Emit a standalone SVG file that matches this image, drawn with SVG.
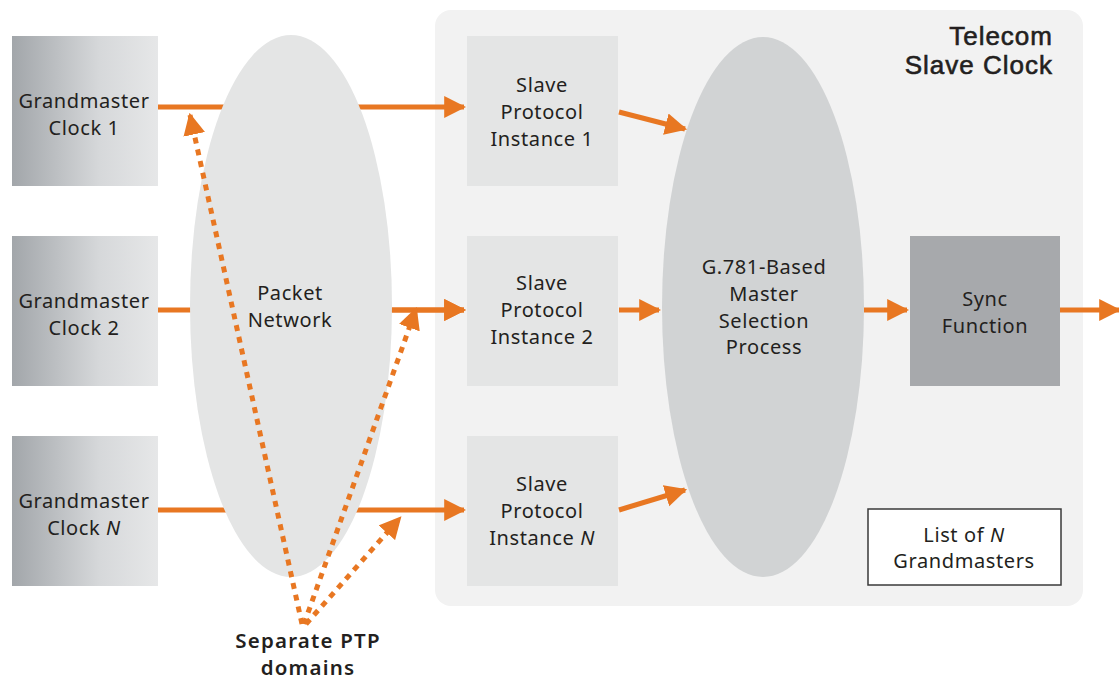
<svg xmlns="http://www.w3.org/2000/svg" width="1119" height="679" viewBox="0 0 1119 679">
  <style>
    .t { font-family: "Noto Sans", "DejaVu Sans", sans-serif; font-size: 20px; letter-spacing: 0.6px; fill: #231f20; text-anchor: middle; }
    .title { font-family: "Liberation Sans", Arial, sans-serif; font-size: 26px; letter-spacing: 1px; fill: #231f20; stroke: #231f20; stroke-width: 0.6; text-anchor: end; }
    .lbl { font-family: "Noto Sans", "DejaVu Sans", sans-serif; font-size: 20.5px; letter-spacing: 1.2px; font-weight: 600; fill: #231f20; text-anchor: middle; }
    .link { stroke: #e87722; stroke-width: 5; fill: none; }
    .dot { stroke: #e87722; stroke-width: 5; fill: none; stroke-dasharray: 6 6; }
    .gm { fill: url(#gmGrad); }
    .slave { fill: #e4e5e5; }
  </style>
  <defs>
    <linearGradient id="gmGrad" x1="0" y1="0" x2="1" y2="0">
      <stop offset="0" stop-color="#a2a6aa"/>
      <stop offset="0.6" stop-color="#d6d8da"/>
      <stop offset="1" stop-color="#e6e7e8"/>
    </linearGradient>
    <marker id="ah" viewBox="0 0 10 10" refX="9" refY="5" markerWidth="4.4" markerHeight="4.6" markerUnits="strokeWidth" orient="auto">
      <path d="M0,0 L10,5 L0,10 Z" fill="#e87722"/>
    </marker>
  </defs>

  <!-- telecom slave clock container -->
  <g id="container">
    <rect x="435" y="10" width="648" height="596" rx="16" fill="#f2f2f2"/>
    <text class="title" x="1053" y="45">Telecom</text>
    <text class="title" x="1053" y="74">Slave Clock</text>
  </g>

  <!-- links that run behind the packet network cloud -->
  <g id="connectors-back">
    <line class="link" x1="158" y1="107" x2="464" y2="107" marker-end="url(#ah)"/>
    <line class="link" x1="158" y1="310" x2="464" y2="310" marker-end="url(#ah)"/>
    <line class="link" x1="158" y1="510" x2="464" y2="510" marker-end="url(#ah)"/>
  </g>

  <g id="gm1">
    <rect class="gm" x="12" y="36" width="146" height="150"/>
    <text class="t" x="84" y="108">Grandmaster</text>
    <text class="t" x="84" y="135">Clock 1</text>
  </g>
  <g id="gm2">
    <rect class="gm" x="12" y="236" width="146" height="150"/>
    <text class="t" x="84" y="308">Grandmaster</text>
    <text class="t" x="84" y="335">Clock 2</text>
  </g>
  <g id="gmN">
    <rect class="gm" x="12" y="436" width="146" height="150"/>
    <text class="t" x="84" y="508">Grandmaster</text>
    <text class="t" x="84" y="535">Clock <tspan font-style="italic">N</tspan></text>
  </g>

  <g id="packet-network">
    <ellipse cx="291" cy="306" rx="101" ry="271" fill="#e4e5e5"/>
    <text class="t" x="290" y="300">Packet</text>
    <text class="t" x="290" y="327">Network</text>
  </g>

  <g id="slave1">
    <rect class="slave" x="467" y="36" width="151" height="150"/>
    <text class="t" x="542" y="92">Slave</text>
    <text class="t" x="542" y="119">Protocol</text>
    <text class="t" x="542" y="146">Instance 1</text>
  </g>
  <g id="slave2">
    <rect class="slave" x="467" y="236" width="151" height="150"/>
    <text class="t" x="542" y="290">Slave</text>
    <text class="t" x="542" y="317">Protocol</text>
    <text class="t" x="542" y="344">Instance 2</text>
  </g>
  <g id="slaveN">
    <rect class="slave" x="467" y="436" width="151" height="150"/>
    <text class="t" x="542" y="491">Slave</text>
    <text class="t" x="542" y="518">Protocol</text>
    <text class="t" x="542" y="545">Instance <tspan font-style="italic">N</tspan></text>
  </g>

  <g id="selection">
    <ellipse cx="763" cy="307" rx="101" ry="270" fill="#d1d3d4"/>
    <text class="t" x="764" y="274">G.781-Based</text>
    <text class="t" x="764" y="301">Master</text>
    <text class="t" x="764" y="328">Selection</text>
    <text class="t" x="764" y="354">Process</text>
  </g>

  <g id="sync">
    <rect x="910" y="236" width="150" height="150" fill="#a7a9ac"/>
    <text class="t" x="985" y="306">Sync</text>
    <text class="t" x="985" y="333">Function</text>
  </g>

  <g id="gm-list">
    <rect x="868" y="509" width="193" height="76" fill="#ffffff" stroke="#3a3a3a" stroke-width="1.5"/>
    <text class="t" x="964" y="542">List of <tspan font-style="italic">N</tspan></text>
    <text class="t" x="964" y="568">Grandmasters</text>
  </g>

  <g id="connectors">
    <!-- packet network exit on row 2 -->
    <line class="link" x1="392" y1="310" x2="464" y2="310" marker-end="url(#ah)"/>
    <line class="link" x1="619" y1="112" x2="685" y2="129" marker-end="url(#ah)"/>
    <line class="link" x1="619" y1="310" x2="659" y2="310" marker-end="url(#ah)"/>
    <line class="link" x1="619" y1="510" x2="685" y2="490" marker-end="url(#ah)"/>
    <line class="link" x1="864" y1="310" x2="907" y2="310" marker-end="url(#ah)"/>
    <line class="link" x1="1060" y1="310" x2="1119" y2="310" marker-end="url(#ah)"/>
    <!-- separate PTP domains -->
    <line class="dot" x1="302" y1="624" x2="190" y2="115" marker-end="url(#ah)"/>
    <line class="dot" x1="304" y1="624" x2="416" y2="309" marker-end="url(#ah)"/>
    <line class="dot" x1="306" y1="624" x2="400" y2="518" marker-end="url(#ah)"/>
  </g>

  <g id="ptp-label">
    <text class="lbl" x="308" y="648">Separate PTP</text>
    <text class="lbl" x="308" y="675">domains</text>
  </g>
</svg>
